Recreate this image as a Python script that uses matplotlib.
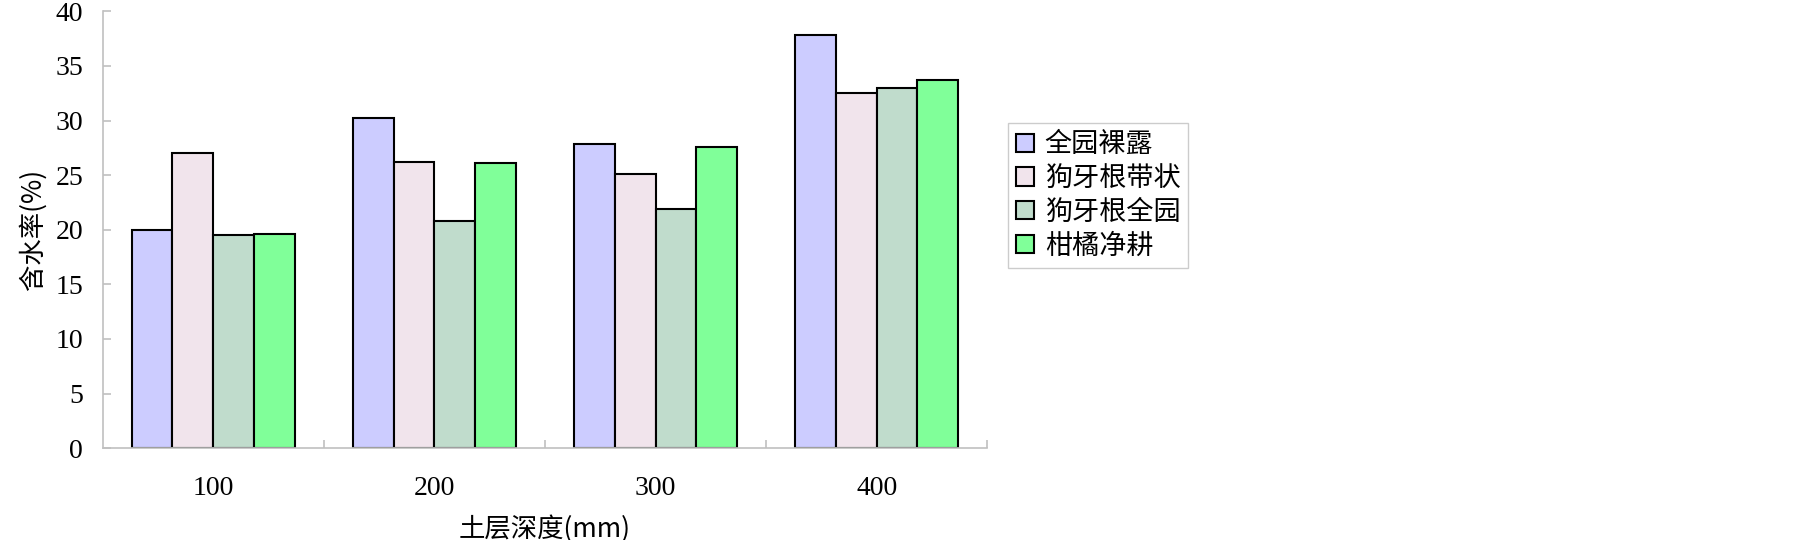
import numpy as np
import matplotlib
matplotlib.use("Agg")
import matplotlib.pyplot as plt

plt.rcParams['font.family'] = ['Noto Sans CJK SC', 'DejaVu Sans']

depths = ["100", "200", "300", "400"]
series_names = ["全园裸露", "狗牙根带状", "狗牙根全园", "柑橘净耕"]
bare = [20.0, 30.2, 27.85, 37.8]
strip = [27.05, 26.2, 25.1, 32.5]
full_grass = [19.5, 20.8, 21.9, 32.95]
clean_till = [19.65, 26.1, 27.6, 33.75]
series = [bare, strip, full_grass, clean_till]
colors = ["#ccccff", "#f1e4ec", "#c0dccc", "#80ff99"]

fig = plt.figure(figsize=(18.05, 5.4), dpi=100)
ax = fig.add_axes([0.0568, 0.170, 0.4902, 0.809])

x = np.arange(len(depths))
width = 0.184
for i, (vals, name, col) in enumerate(zip(series, series_names, colors)):
    offs = (i - 1.5) * width
    ax.bar(x + offs, vals, width, color=col, edgecolor="black",
           linewidth=1.5, label=name)

ax.set_xlim(-0.5, len(depths) - 0.5)
ax.set_ylim(0, 40)
ax.set_yticks(np.arange(0, 41, 5))
ax.set_xticks(np.append(x[:-1] + 0.5, len(depths) - 0.5))
ax.set_xticklabels([])
ax.set_xticks(x, minor=True)
ax.set_xticklabels(depths, minor=True)

for s in ["top", "right"]:
    ax.spines[s].set_visible(False)
for s in ["left", "bottom"]:
    ax.spines[s].set_color("#c0c0c0")
    ax.spines[s].set_linewidth(1.2)

ax.tick_params(axis="both", which="major", direction="in", length=6,
               color="#c0c0c0", width=1.2)
ax.tick_params(axis="x", which="minor", length=0, pad=20)
ax.tick_params(axis="y", pad=14)
for lab in ax.get_yticklabels() + ax.get_xticklabels(minor=True):
    lab.set_family(["Liberation Serif"])
    lab.set_fontsize(20)

ax.set_ylabel("含水率(%)", fontsize=19, labelpad=6)
ax.set_xlabel("土层深度(mm)", fontsize=19, labelpad=10)

leg = fig.legend(loc="upper left", bbox_to_anchor=(0.5585, 0.772),
                 fontsize=19.5, frameon=True, fancybox=False,
                 handlelength=0.65, handleheight=0.65, handletextpad=0.4,
                 borderpad=0.3, labelspacing=0.25, borderaxespad=0)
leg.get_frame().set_edgecolor("#c0c0c0")
leg.get_frame().set_linewidth(1.0)

fig.savefig("out.png", dpi=100)
